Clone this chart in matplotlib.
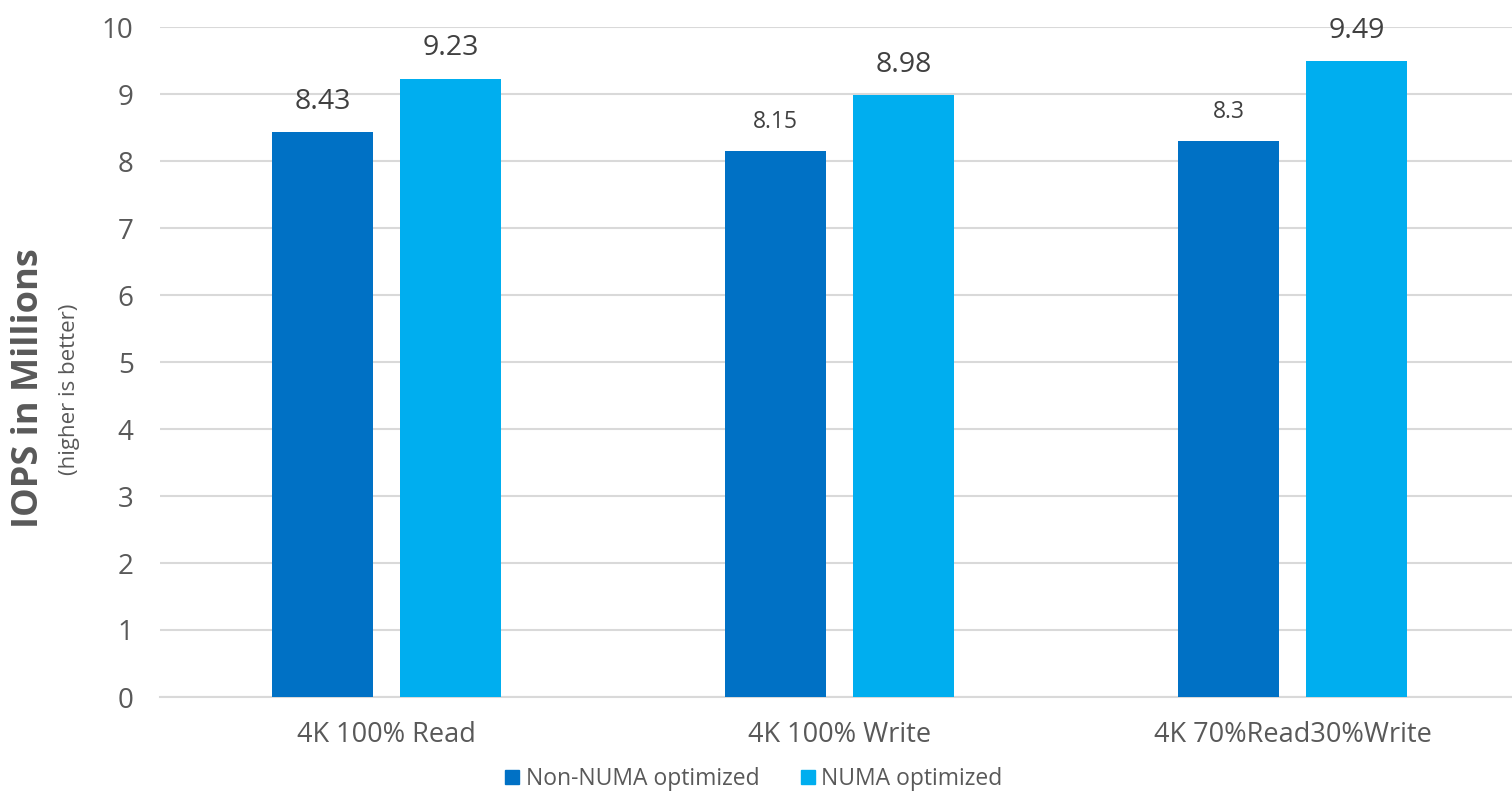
import matplotlib
matplotlib.use("Agg")
import matplotlib.pyplot as plt
import numpy as np
from matplotlib.patches import Patch

categories = ["4K 100% Read", "4K 100% Write", "4K 70%Read30%Write"]
non_numa = [8.43, 8.15, 8.3]
numa = [9.23, 8.98, 9.49]
non_numa_labels = ["8.43", "8.15", "8.3"]
numa_labels = ["9.23", "8.98", "9.49"]
non_numa_label_sizes = [20.5, 16.5, 16.5]
numa_label_sizes = [20.5, 20.5, 20.5]
series_names = ["Non-NUMA optimized", "NUMA optimized"]

plt.rcParams['font.family'] = ['Open Sans', 'DejaVu Sans']

c_dark = "#0071C5"
c_light = "#00AEEF"
txt = "#595959"

fig = plt.figure(figsize=(15.12, 7.92), dpi=100)
ax = fig.add_axes([160/1512, 1-697/792, 1-160/1512, (697-27)/792])

x = np.arange(len(categories))
w = 0.223
off = 0.141
b1 = ax.bar(x - off, non_numa, w, color=c_dark, zorder=3)
b2 = ax.bar(x + off, numa, w, color=c_light, zorder=3)

for rect, lab, fs in zip(b1, non_numa_labels, non_numa_label_sizes):
    ax.annotate(lab, (rect.get_x() + rect.get_width()/2, rect.get_height()),
                xytext=(0, 12), textcoords="offset points", ha="center", va="bottom",
                fontsize=fs, color="#404040")
for rect, lab, fs in zip(b2, numa_labels, numa_label_sizes):
    ax.annotate(lab, (rect.get_x() + rect.get_width()/2, rect.get_height()),
                xytext=(0, 12), textcoords="offset points", ha="center", va="bottom",
                fontsize=fs, color="#404040")

ax.set_ylim(0, 10)
ax.set_xlim(-0.5, -0.5 + 1352/453)
ax.set_yticks(range(0, 11))
ax.tick_params(axis='y', length=0, labelsize=20, labelcolor=txt, pad=19)
ax.set_xticks(x)
ax.set_xticklabels(categories)
ax.tick_params(axis='x', length=0, labelsize=19.5, labelcolor=txt, pad=17)
ax.grid(axis='y', color="#d9d9d9", linewidth=1.5, zorder=0)
for s in ["top", "right", "left"]:
    ax.spines[s].set_visible(False)
ax.spines["bottom"].set_color("#d9d9d9")
ax.spines["bottom"].set_linewidth(1.5)

fig.text(29/1512, 1-388/792, "IOPS in Millions", rotation=90, ha="center", va="center",
         fontsize=26, fontweight="bold", color=txt)
fig.text(70/1512, 1-389/792, "(higher is better)", rotation=90, ha="center", va="center",
         fontsize=16, color=txt)

handles = [Patch(color=c_dark), Patch(color=c_light)]
fig.legend(handles, series_names, loc="center", bbox_to_anchor=(754/1512, 1-779/792),
           ncol=2, frameon=False, fontsize=16.5, labelcolor=txt,
           handlelength=0.6, handleheight=0.6, handletextpad=0.3, columnspacing=1.8,
           borderpad=0)

fig.savefig("out.png", dpi=100)
